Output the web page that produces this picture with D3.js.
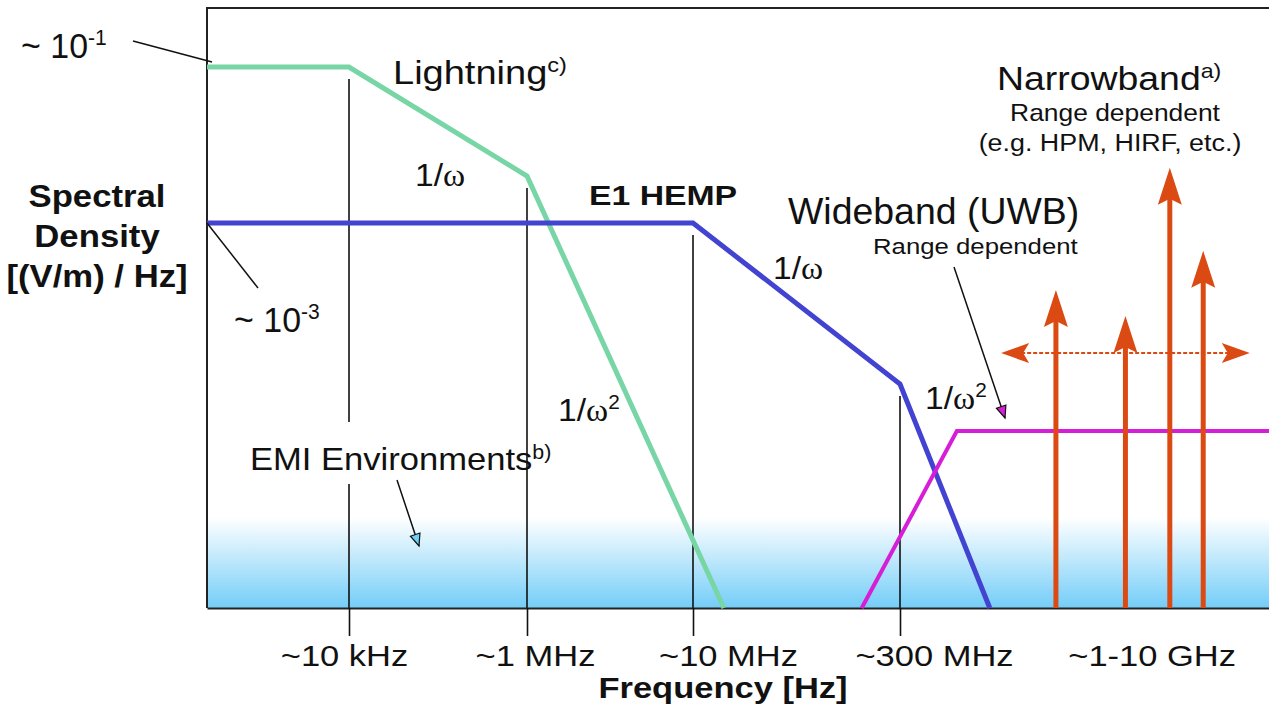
<!DOCTYPE html>
<html>
<head>
<meta charset="utf-8">
<script src="https://cdn.jsdelivr.net/npm/d3@7"></script>
<style>
  body { margin: 0; background: #fff; }
  svg { display: block; font-family: "Liberation Sans", Arial, sans-serif; }
  .greek { font-family: "Liberation Serif", "DejaVu Serif", serif; }
</style>
</head>
<body>
<div id="chart"></div>
<script>
// frequency breakpoints (Hz) of the schematic axis
const freqStops = [1e3, 1e4, 1e6, 1e7, 3e8, 3e10];
const tickFreqs = [1e4, 1e6, 1e7, 3e8, 3.16e9];
const tickLabels = ['~10 kHz', '~1 MHz', '~10 MHz', '~300 MHz', '~1-10 GHz'];

// spectral density [(V/m)/Hz]
const densityFloor = 1.16e-8;
const lightning = [[1e3, 1e-1], [1e4, 1e-1], [1e6, 4e-3], [1.66e7, densityFloor]];
const hemp = [[1e3, 1e-3], [1e7, 1e-3], [3e8, 8.6e-6], [9.2e8, densityFloor]];
const wideband = [[1.6e8, densityFloor], [6.1e8, 2.15e-6], [3e10, 2.15e-6]];
const narrowFreqs = [2.1e9, 5.0e9, 8.7e9, 1.32e10];
const narrowPeaks = [1.38e-4, 6.4e-5, 5.1e-3, 4.4e-4];
const tuningRange = [1.06e9, 2.36e10];
const tuningLevel = 2.15e-5;
const kneeFreqs = [1e4, 1e6, 1e7, 3e8];
const kneeLevels = [1e-1, 4e-3, 1e-3, 8.6e-6];

const width = 1269, height = 708;
const labelDx = [-5, 8, 35, 34, 63];
const ink = '#111';

const svg = d3.select('#chart').append('svg')
  .attr('width', width)
  .attr('height', height);

const x = d3.scaleLog()
  .domain(freqStops)
  .range([207, 349, 527, 693, 900, 1269]);
const y = d3.scaleLog()
  .domain([1e-1, 1e-3])
  .range([67, 223]);
const bottom = y(densityFloor);
const plotTop = 8;

// EMI background glow
const grad = svg.append('defs').append('linearGradient')
  .attr('id', 'emi').attr('x1', 0).attr('y1', 0).attr('x2', 0).attr('y2', 1);
grad.append('stop').attr('offset', '0%').attr('stop-color', '#fff');
grad.append('stop').attr('offset', '20%').attr('stop-color', '#fff');
grad.append('stop').attr('offset', '100%').attr('stop-color', '#74cdf8');

svg.append('rect')
  .attr('x', x.range()[0]).attr('y', 495)
  .attr('width', width - x.range()[0]).attr('height', bottom - 495)
  .attr('fill', 'url(#emi)');

// frame (left and top)
svg.append('path')
  .attr('d', 'M' + x.range()[0] + ',' + bottom + 'V' + plotTop + 'H' + width)
  .attr('fill', 'none').attr('stroke', '#222').attr('stroke-width', 2);

// drop lines from the knees
svg.append('g').selectAll('line').data(kneeFreqs)
  .enter().append('line')
    .attr('x1', d => x(d)).attr('x2', d => x(d))
    .attr('y1', (d, i) => y(kneeLevels[i]) + 12)
    .attr('y2', bottom)
    .attr('stroke', ink).attr('stroke-width', 1.6);

// white box behind the EMI label
svg.append('rect')
  .attr('x', 238).attr('y', 422).attr('width', 282).attr('height', 62)
  .attr('fill', '#fff');

// x axis
const xAxis = d3.axisBottom(x)
  .tickValues(tickFreqs)
  .tickFormat((d, i) => tickLabels[i])
  .tickSize(28)
  .tickSizeOuter(0);
const ax = svg.append('g')
  .attr('transform', 'translate(0,' + bottom + ')')
  .call(xAxis)
  .attr('font-family', null)
  .attr('font-size', 30);
ax.select('.domain').attr('stroke', '#222').attr('stroke-width', 2);
ax.selectAll('.tick line').attr('stroke', ink).attr('stroke-width', 1.6)
  .filter((d, i) => i === 4).remove();
ax.selectAll('.tick text')
  .attr('y', 0).attr('dy', 0).attr('fill', ink)
  .attr('transform', (d, i) => 'translate(' + labelDx[i] + ',58) scale(1.15,1)');

// spectra
const line = d3.line().x(d => x(d[0])).y(d => y(d[1]));
[[lightning, '#78d6a6', 5], [hemp, '#4343d2', 5], [wideband, '#d61ed6', 4]].forEach(s => {
  svg.append('path').datum(s[0])
    .attr('d', line)
    .attr('fill', 'none')
    .attr('stroke', s[1])
    .attr('stroke-width', s[2])
    .attr('stroke-linejoin', 'miter');
});

// narrowband arrows
const orange = '#dc4a14';
const nb = svg.append('g');
nb.selectAll('line').data(narrowFreqs)
  .enter().append('line')
    .attr('x1', d => x(d)).attr('x2', d => x(d))
    .attr('y1', bottom)
    .attr('y2', (d, i) => y(narrowPeaks[i]) + 28)
    .attr('stroke', orange).attr('stroke-width', 5);
nb.selectAll('path').data(narrowFreqs)
  .enter().append('path')
    .attr('d', (d, i) => {
      const px = x(d), py = y(narrowPeaks[i]);
      return 'M' + px + ',' + py + 'L' + (px + 12) + ',' + (py + 37) +
        'L' + px + ',' + (py + 31) + 'L' + (px - 12) + ',' + (py + 37) + 'Z';
    })
    .attr('fill', orange);

// tuning range double arrow
const ty = y(tuningLevel), tx0 = x(tuningRange[0]), tx1 = x(tuningRange[1]);
nb.append('line')
  .attr('x1', tx0 + 20).attr('x2', tx1 - 20).attr('y1', ty).attr('y2', ty)
  .attr('stroke', orange).attr('stroke-width', 2).attr('stroke-dasharray', '4,2');
nb.append('path')
  .attr('d', 'M' + tx0 + ',' + ty + 'L' + (tx0 + 28) + ',' + (ty - 10) + 'L' + (tx0 + 22) + ',' + ty +
    'L' + (tx0 + 28) + ',' + (ty + 10) + 'Z' +
    'M' + tx1 + ',' + ty + 'L' + (tx1 - 28) + ',' + (ty - 10) + 'L' + (tx1 - 22) + ',' + ty +
    'L' + (tx1 - 28) + ',' + (ty + 10) + 'Z')
  .attr('fill', orange);

// thin pointer lines
function pointer(x1, y1, x2, y2, head) {
  svg.append('line')
    .attr('x1', x1).attr('y1', y1).attr('x2', x2).attr('y2', y2)
    .attr('stroke', ink).attr('stroke-width', 1.5);
  if (!head) return;
  const a = Math.atan2(y2 - y1, x2 - x1), L = 12, w = 5;
  const bx = x2 - L * Math.cos(a), by = y2 - L * Math.sin(a);
  svg.append('path')
    .attr('d', 'M' + x2 + ',' + y2 +
      'L' + (bx + w * Math.sin(a)) + ',' + (by - w * Math.cos(a)) +
      'L' + (bx - w * Math.sin(a)) + ',' + (by + w * Math.cos(a)) + 'Z')
    .attr('fill', head).attr('stroke', ink).attr('stroke-width', 1.2);
}
pointer(133, 41, x(1e3) + 5, y(1e-1) - 5);
pointer(x(1e3), y(1e-3), 258, 288);
pointer(397, 480, 419, 546, '#6fd0f6');
pointer(954, 267, 1005, 418, '#d61ed6');

// labels; the slide text is stretched sideways by varying amounts
function txt(px, py, size, sx, opts) {
  opts = opts || {};
  return svg.append('text')
    .attr('transform', 'translate(' + px + ',' + py + ') scale(' + sx + ',1)')
    .attr('font-size', size)
    .attr('fill', ink)
    .attr('text-anchor', opts.anchor || 'start')
    .attr('font-weight', opts.bold ? 'bold' : null);
}
function sup(t, s) {
  t.append('tspan').attr('font-size', '0.62em').attr('dy', '-0.58em').text(s);
  return t;
}
function omega(px, py, squared) {
  const t = txt(px, py, 32, 1.05);
  t.append('tspan').text('1/');
  t.append('tspan').attr('class', 'greek').text('ω');
  if (squared) sup(t, '2');
}

sup(txt(21, 58, 35, 0.97).text('~ 10'), '-1');
sup(txt(234, 332, 35, 0.97).text('~ 10'), '-3');

const yl = txt(97, 207, 31, 1.12, { anchor: 'middle', bold: true });
['Spectral', 'Density', '[(V/m) / Hz]'].forEach((s, i) => {
  yl.append('tspan').attr('x', 0).attr('y', i * 40).text(s);
});

sup(txt(393, 84, 32.5, 1.17).text('Lightning'), 'c)');
txt(589, 205, 27, 1.25, { bold: true }).text('E1 HEMP');
omega(415, 186);
omega(773, 279);
omega(558, 421, true);
omega(925, 409, true);

txt(788, 224, 36, 1.04).text('Wideband (UWB)');
txt(873, 254, 23, 1.12).text('Range dependent');

sup(txt(997, 90, 34, 1.1).text('Narrowband'), 'a)');
txt(1115, 121, 24, 1.1, { anchor: 'middle' }).text('Range dependent');
txt(1110, 151, 24, 1.12, { anchor: 'middle' }).text('(e.g. HPM, HIRF, etc.)');

sup(txt(250, 470, 32, 1.08).text('EMI Environments'), 'b)');

txt(723, 698, 30, 1.15, { anchor: 'middle', bold: true }).text('Frequency [Hz]');
</script>
</body>
</html>
